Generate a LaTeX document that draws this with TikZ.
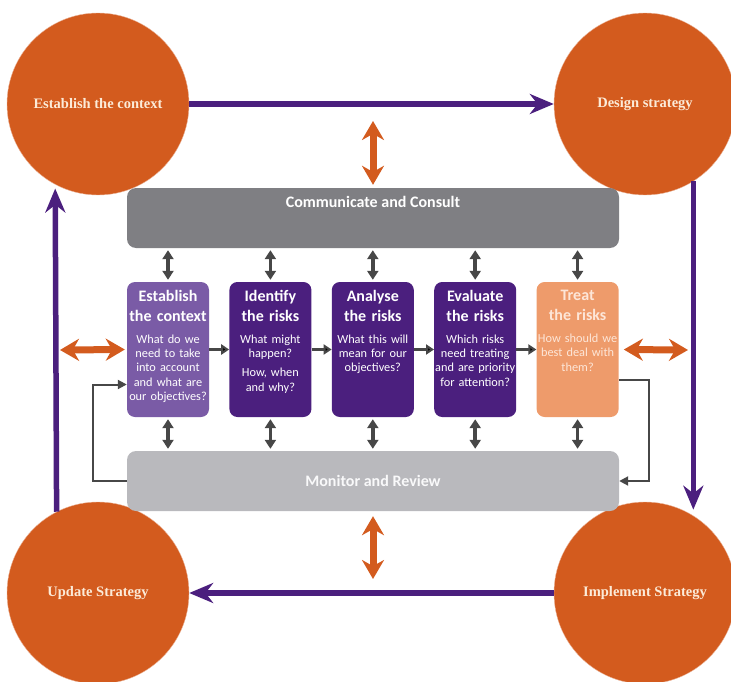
\documentclass[tikz,border=0pt]{standalone}
\usepackage{fontspec}
\setmainfont{Liberation Serif}
\newfontfamily\procfont{Carlito}
\usetikzlibrary{arrows.meta, positioning}
\definecolor{rustorange}{HTML}{D35B1E}
\definecolor{deeppurple}{HTML}{4B1F7E}
\definecolor{softpurple}{HTML}{7A5BA6}
\definecolor{salmon}{HTML}{EE9B6B}
\definecolor{commgray}{HTML}{7F7F83}
\definecolor{mongray}{HTML}{B9B9BD}
\definecolor{arrowgray}{HTML}{474747}
\definecolor{cream}{HTML}{FCEBD8}
\definecolor{peach}{HTML}{FDE6D8}

\begin{document}
\begin{tikzpicture}[
        x=1pt, y=-1pt, node distance=20pt,
        stage/.style={circle, fill=rustorange, draw=rustorange!45, minimum size=182pt, inner sep=0pt,
          text=cream, font=\bfseries\fontsize{14.5}{16}\selectfont},
        strategyflow/.style={draw=deeppurple, line width=5.5pt, -{Stealth[length=24pt, width=20pt]}},
        band/.style={rounded corners=9pt, minimum width=492pt, minimum height=60pt, inner sep=0pt},
        bandtext/.style={inner sep=0pt, text=white, font=\procfont\bfseries\fontsize{16}{18}\selectfont},
        procbox/.style={rounded corners=8pt, minimum width=82pt, minimum height=135pt, inner sep=0pt},
        proctitle/.style={text width=90pt, align=center, inner sep=0pt, text=white,
          font=\procfont\bfseries\fontsize{16}{20}\selectfont},
        procnote/.style={text width=90pt, align=center, inner sep=0pt, text=white,
          font=\procfont\fontsize{12.3}{14.3}\selectfont},
        link/.style={draw=rustorange, line width=7pt, {Stealth[length=19pt, width=22pt]}-{Stealth[length=19pt, width=22pt]}},
        tie/.style={draw=arrowgray, line width=3.5pt, {Triangle[length=9pt, width=11pt]}-{Triangle[length=9pt, width=11pt]},
          shorten <=2pt, shorten >=2pt},
        steparrow/.style={draw=arrowgray, line width=3pt, -{Triangle[length=8pt, width=10pt]}},
        loopline/.style={draw=arrowgray, line width=2pt, -{Triangle[length=9pt, width=9pt]}}
        ]
        \useasboundingbox (0,0) rectangle (731,682);

        % outer strategy cycle
        \node[stage] (context)   at (98,104)  {Establish the context};
        \node[stage] (design)    at (645,104) {Design strategy};
        \node[stage] (implement) at (645,593) {Implement Strategy};
        \node[stage] (update)    at (98,593)  {Update Strategy};

        \draw[strategyflow] (context.east) -- (design.west);
        \draw[strategyflow, shorten >=6pt] (design.-58) -- (implement.58);
        \draw[strategyflow] (implement.west) -- (update.east);
        \draw[strategyflow, shorten >=4pt] (update.117.5) -- (context.242.5);

        % communicate / monitor bands
        \node[band, fill=commgray] (comm)    at (373,218) {};
        \node[bandtext]            (comm-t)  [below=8pt of comm.north] {Communicate and Consult};
        \node[band, fill=mongray, text=white!92!mongray, font=\procfont\bfseries\fontsize{16}{18}\selectfont]
                                   (monitor) at (373,481) {Monitor and Review};

        % process steps
        \node[procbox, fill=softpurple] (estab)    at (168,349.5)      {};
        \node[procbox, fill=deeppurple] (ident)    [right=of estab]    {};
        \node[procbox, fill=deeppurple] (analyse)  [right=of ident]    {};
        \node[procbox, fill=deeppurple] (evaluate) [right=of analyse]  {};
        \node[procbox, fill=salmon]     (treat)    [right=of evaluate] {};

        \node[proctitle] (estab-t)    [below=8pt of estab.north]    {Establish\\the context};
        \node[procnote]  (estab-q)    [below=13pt of estab-t]       {What do we\\need to take\\into account\\and what are\\our objectives?};
        \node[proctitle] (ident-t)    [below=8pt of ident.north]    {Identify\\the risks};
        \node[procnote]  (ident-q)    [below=13pt of ident-t]       {What might\\happen?\\[5pt]How, when\\and why?};
        \node[proctitle] (analyse-t)  [below=8pt of analyse.north]  {Analyse\\the risks};
        \node[procnote]  (analyse-q)  [below=13pt of analyse-t]     {What this will\\mean for our\\objectives?};
        \node[proctitle] (evaluate-t) [below=8pt of evaluate.north] {Evaluate\\the risks};
        \node[procnote]  (evaluate-q) [below=13pt of evaluate-t]    {Which risks\\need treating\\and are priority\\for attention?};
        \node[proctitle, text=peach] (treat-t) [below=8pt of treat.north] {Treat\\the risks};
        \node[procnote, text=peach]  (treat-q) [below=13pt of treat-t]    {How should we\\best deal with\\them?};

        \path[steparrow] (estab) edge (ident)
                         (ident) edge (analyse)
                         (analyse) edge (evaluate)
                         (evaluate) edge (treat);

        \foreach \b in {estab,ident,analyse,evaluate,treat}{
          \draw[tie] (\b.north) -- (\b.north |- comm.south);
          \draw[tie] (\b.south) -- (\b.south |- monitor.north);
        }

        % feedback loop
        \draw[loopline] ([yshift=-30pt]treat.east) -- ++(30,0) |- (monitor.east);
        \draw[loopline] (monitor.west) -- ++(-34,0) |- ([yshift=-35pt]estab.west);

        % links to the outer cycle
        \coordinate (linktop)    at (373,121);
        \coordinate (linkbottom) at (373,579);
        \coordinate (linkleft)   at (60,350);
        \coordinate (linkright)  at (688,350);
        \draw[link, shorten >=3pt] (linktop) -- (comm.north);
        \draw[link, shorten <=5pt] (monitor.south) -- (linkbottom);
        \draw[link, shorten >=2pt] (linkleft) -- (estab.west);
        \draw[link, shorten <=5pt] (treat.east) -- (linkright);
      \end{tikzpicture}
\end{document}
